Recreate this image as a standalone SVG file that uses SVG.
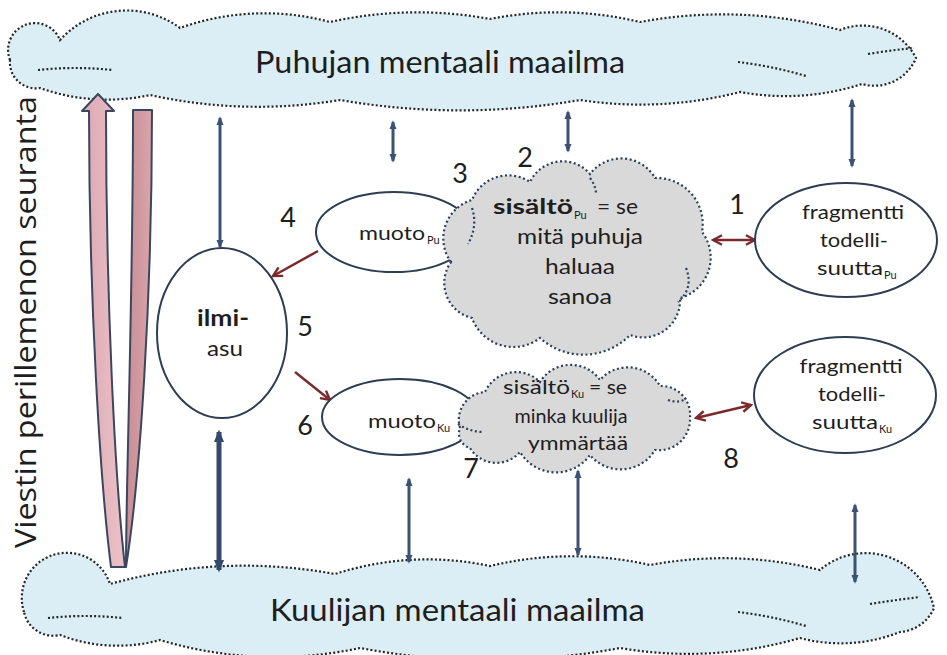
<svg xmlns="http://www.w3.org/2000/svg" width="947" height="655" viewBox="0 0 947 655">
<defs>
<style>
.world{fill:#dbeef5;stroke:#262626;stroke-width:2.2;stroke-dasharray:2 2.2}
.inner{fill:none;stroke:#262626;stroke-width:2.2;stroke-dasharray:2 2.2}
.gcloud{fill:#d9d9d9;stroke:#2f3f58;stroke-width:2.2;stroke-dasharray:2 2.6}
.gin{fill:none;stroke:#2f3f58;stroke-width:2.2;stroke-dasharray:2 2.6}
.node{fill:#ffffff;stroke:#2e3d52;stroke-width:2}
.t{font-family:Lato,"Liberation Sans",sans-serif;fill:#1e1e1e}
.big{font-size:30px}
.lbl{font-size:20px}
.sub{font-size:11px}
.num{font-family:Lato,"Liberation Sans",sans-serif;font-size:27px;fill:#1e1e1e;text-anchor:middle}
.vb{stroke:#3b5275;stroke-width:3;fill:none;marker-start:url(#bh);marker-end:url(#bh)}
.red{stroke:#7a2a2a;stroke-width:2.5;fill:none}
</style>
<marker id="bh" viewBox="0 0 10 10" refX="8" refY="5" markerWidth="9" markerHeight="9" markerUnits="userSpaceOnUse" orient="auto-start-reverse"><path d="M0,1 L10,5 L0,9 z" fill="#3b5275"/></marker>
<marker id="bh2" viewBox="0 0 10 10" refX="8" refY="5" markerWidth="13" markerHeight="13" markerUnits="userSpaceOnUse" orient="auto-start-reverse"><path d="M0,1 L10,5 L0,9 z" fill="#34496b"/></marker>
<marker id="rh" viewBox="0 0 10 10" refX="8.5" refY="5" markerWidth="12" markerHeight="12" markerUnits="userSpaceOnUse" orient="auto-start-reverse"><path d="M1,1 L8.5,5 L1,9" fill="none" stroke="#7a2a2a" stroke-width="2"/></marker>
<linearGradient id="pk1" x1="0" y1="0" x2="1" y2="0"><stop offset="0" stop-color="#dca7b0"/><stop offset="1" stop-color="#ecc3c9"/></linearGradient>
<linearGradient id="pk2" x1="0" y1="0" x2="1" y2="0"><stop offset="0" stop-color="#c98d94"/><stop offset="1" stop-color="#d7a6ab"/></linearGradient>
</defs>
<rect width="947" height="655" fill="#ffffff"/>

<g id="puhujan-maailma">
<path class="world" d="M10,60 A26 26 0 0 1 60,40 A90 90 0 0 1 180,28 A250 250 0 0 1 330,22 A400 400 0 0 1 490,19 A350 350 0 0 1 640,22 A450 450 0 0 1 840,30 A60 60 0 0 1 916,58 A45 45 0 0 1 862,84 A250 250 0 0 1 740,92 A400 400 0 0 1 580,100 A700 700 0 0 1 340,100 A500 500 0 0 1 150,95 A200 200 0 0 1 40,88 A26 26 0 0 1 10,60 Z"/>
<path class="inner" d="M38,70 Q75,66 112,70"/>
<path class="inner" d="M738,62 Q772,66 806,76"/>
<path class="inner" d="M868,54 Q892,50 914,48"/>
<text class="t big" x="255" y="73" textLength="370" lengthAdjust="spacingAndGlyphs">Puhujan mentaali maailma</text>
</g>

<g id="kuulijan-maailma">
<path class="world" d="M24,612 A30 30 0 0 1 110,584 A500 500 0 0 1 335,574 A300 300 0 0 1 490,566 A350 350 0 0 1 650,565 A400 400 0 0 1 820,570 A70 70 0 0 1 934,608 A40 40 0 0 1 900,632 A160 160 0 0 1 800,638 A400 400 0 0 1 620,648 A700 700 0 0 1 360,648 A400 400 0 0 1 160,640 A160 160 0 0 1 60,635 A30 30 0 0 1 24,612 Z"/>
<path class="inner" d="M48,618 Q85,614 122,618"/>
<path class="inner" d="M738,612 Q772,616 806,626"/>
<path class="inner" d="M870,604 Q895,600 920,597"/>
<text class="t big" x="270" y="621" textLength="375" lengthAdjust="spacingAndGlyphs">Kuulijan mentaali maailma</text>
</g>

<g id="seuranta">
<path d="M98,94 L114,111 L106,111 C106,300 115,480 125,567 L111,567 C100,480 89,300 89,111 L82,111 Z" fill="url(#pk1)" stroke="#3b4660" stroke-width="2" stroke-linejoin="round"/>
<path d="M133,110 L152,110 C152,300 140,480 126,567 C126,480 133,300 133,110 Z" fill="url(#pk2)" stroke="#3b4660" stroke-width="2" stroke-linejoin="round"/>
<text font-family="'Open Sans','DejaVu Sans',sans-serif" font-size="30" fill="#1e1e1e" text-anchor="middle" transform="translate(36,322) rotate(-90)" textLength="452" lengthAdjust="spacingAndGlyphs">Viestin perillemenon seuranta</text>
</g>

<g id="connectors">
<line class="vb" x1="220" y1="118" x2="220" y2="247"/>
<line class="vb" x1="393" y1="122" x2="393" y2="161"/>
<line class="vb" x1="568" y1="112" x2="568" y2="151"/>
<line class="vb" x1="852" y1="100" x2="852" y2="166"/>
<line x1="219" y1="432" x2="219" y2="570" stroke="#34496b" stroke-width="5" marker-start="url(#bh2)" marker-end="url(#bh2)"/>
<line class="vb" x1="409" y1="479" x2="409" y2="562"/>
<line class="vb" x1="578" y1="471" x2="578" y2="555"/>
<line class="vb" x1="855" y1="505" x2="855" y2="582"/>
<line class="red" x1="318" y1="251" x2="273" y2="276" marker-end="url(#rh)"/>
<line class="red" x1="295" y1="372" x2="330" y2="400" marker-end="url(#rh)"/>
<line class="red" x1="713" y1="240" x2="755" y2="240" marker-start="url(#rh)" marker-end="url(#rh)"/>
<line class="red" x1="696" y1="418" x2="751" y2="405" marker-start="url(#rh)" marker-end="url(#rh)"/>
</g>

<g id="ilmiasu">
<ellipse class="node" cx="222" cy="333" rx="65" ry="85"/>
<text class="t" font-size="22" font-weight="bold" x="223" y="326" text-anchor="middle" textLength="52" lengthAdjust="spacingAndGlyphs">ilmi-</text>
<text class="t" font-size="22" x="225" y="356" text-anchor="middle" textLength="36" lengthAdjust="spacingAndGlyphs">asu</text>
</g>

<g id="muoto-pu">
<ellipse class="node" cx="394" cy="232" rx="78" ry="40"/>
<text class="t lbl" x="359" y="240" textLength="66" lengthAdjust="spacingAndGlyphs">muoto</text>
<text class="t sub" x="427" y="244">Pu</text>
</g>

<g id="muoto-ku">
<ellipse class="node" cx="400" cy="417" rx="78" ry="38"/>
<text class="t lbl" x="368" y="428" textLength="68" lengthAdjust="spacingAndGlyphs">muoto</text>
<text class="t sub" x="437" y="432">Ku</text>
</g>

<g id="sisalto-pu">
<path class="gcloud" d="M451,262 A40 40 0 0 1 472,200 A39 39 0 0 1 530,182 A36 36 0 0 1 590,174 A39 39 0 0 1 655,178 A46 46 0 0 1 702,232 A42 42 0 0 1 680,298 A37 37 0 0 1 630,335 A65 65 0 0 1 540,338 A44 44 0 0 1 472,318 A36 36 0 0 1 451,262 Z"/>
<path class="gin" d="M472,208 Q478,226 468,244"/>
<path class="gin" d="M686,268 Q694,288 678,302"/>
<path class="gin" d="M590,178 Q596,186 596,194"/>
<text class="t" font-size="21" font-weight="bold" x="493" y="214" textLength="80" lengthAdjust="spacingAndGlyphs">sisältö</text>
<text class="t sub" x="574" y="219">Pu</text>
<text class="t" font-size="21" x="597" y="214" textLength="41" lengthAdjust="spacingAndGlyphs">= se</text>
<text class="t" font-size="21" x="580" y="244" text-anchor="middle" textLength="126" lengthAdjust="spacingAndGlyphs">mitä puhuja</text>
<text class="t" font-size="21" x="580" y="274" text-anchor="middle" textLength="70" lengthAdjust="spacingAndGlyphs">haluaa</text>
<text class="t" font-size="21" x="580" y="304" text-anchor="middle" textLength="64" lengthAdjust="spacingAndGlyphs">sanoa</text>
</g>

<g id="sisalto-ku">
<path class="gcloud" d="M460,428 A28 28 0 0 1 485,392 A34 34 0 0 1 540,382 A36 36 0 0 1 600,380 A37 37 0 0 1 660,386 A29 29 0 0 1 690,418 A31 31 0 0 1 655,450 A40 40 0 0 1 590,455 A42 42 0 0 1 520,452 A31 31 0 0 1 470,448 A15 15 0 0 1 460,428 Z"/>
<path class="gin" d="M458,424 Q470,432 484,432"/>
<path class="gin" d="M668,400 Q680,404 686,398"/>
<text class="t" font-size="19" x="503" y="394" textLength="67" lengthAdjust="spacingAndGlyphs">sisältö</text>
<text class="t sub" x="571" y="398">Ku</text>
<text class="t" font-size="19" x="589" y="394" textLength="38" lengthAdjust="spacingAndGlyphs">= se</text>
<text class="t" font-size="19" x="571" y="423" text-anchor="middle" textLength="113" lengthAdjust="spacingAndGlyphs">minka kuulija</text>
<text class="t" font-size="19" x="578" y="450" text-anchor="middle" textLength="100" lengthAdjust="spacingAndGlyphs">ymmärtää</text>
</g>

<g id="fragmentti-pu">
<ellipse class="node" cx="846" cy="240" rx="91" ry="57"/>
<text class="t lbl" x="853" y="219" text-anchor="middle" textLength="102" lengthAdjust="spacingAndGlyphs">fragmentti</text>
<text class="t lbl" x="854" y="247" text-anchor="middle" textLength="68" lengthAdjust="spacingAndGlyphs">todelli-</text>
<text class="t lbl" x="817" y="275" textLength="66" lengthAdjust="spacingAndGlyphs">suutta</text>
<text class="t sub" x="884" y="279">Pu</text>
</g>

<g id="fragmentti-ku">
<ellipse class="node" cx="845" cy="395" rx="91" ry="58"/>
<text class="t lbl" x="851" y="373" text-anchor="middle" textLength="103" lengthAdjust="spacingAndGlyphs">fragmentti</text>
<text class="t lbl" x="852" y="401" text-anchor="middle" textLength="68" lengthAdjust="spacingAndGlyphs">todelli-</text>
<text class="t lbl" x="812" y="429" textLength="66" lengthAdjust="spacingAndGlyphs">suutta</text>
<text class="t sub" x="879" y="433">Ku</text>
</g>

<g id="numbers">
<text class="num" x="737" y="214">1</text>
<text class="num" x="525" y="167">2</text>
<text class="num" x="460" y="183">3</text>
<text class="num" x="288" y="227">4</text>
<text class="num" x="305" y="336">5</text>
<text class="num" x="305" y="435">6</text>
<text class="num" x="471" y="478">7</text>
<text class="num" x="731" y="468">8</text>
</g>
</svg>
